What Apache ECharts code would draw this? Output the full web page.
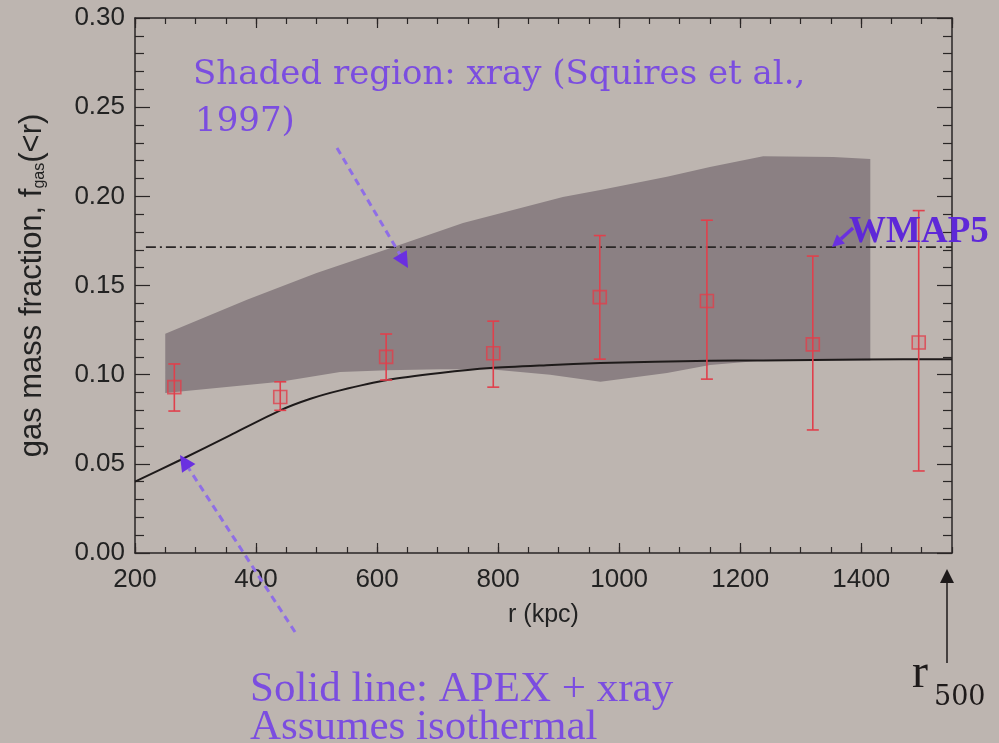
<!DOCTYPE html>
<html>
<head>
<meta charset="utf-8">
<script src="https://cdn.jsdelivr.net/npm/echarts@6/dist/echarts.min.js"></script>
<style>
html, body { margin: 0; padding: 0; background: #bdb5b0; }
#chart { width: 999px; height: 743px; }
</style>
</head>
<body>
<div id="chart"></div>
<script>
// measured f_gas points (r in kpc) with error bars
const radius = [265, 440, 615, 792, 968, 1145, 1320, 1495];
const fgas = [0.093, 0.0875, 0.110, 0.112, 0.1435, 0.1413, 0.117, 0.118];
const errLow = [0.0796, 0.080, 0.097, 0.093, 0.1087, 0.0975, 0.069, 0.046];
const errHigh = [0.106, 0.096, 0.1228, 0.130, 0.178, 0.1866, 0.1665, 0.192];

// solid line: APEX + xray model
const modelR = [200, 274, 357, 440, 490, 539, 617, 704, 787, 880, 969, 1150, 1238, 1400, 1550];
const modelF = [0.040, 0.052, 0.066, 0.0800, 0.0865, 0.0912, 0.097, 0.1009, 0.1037, 0.1053, 0.1065, 0.1078, 0.108, 0.1085, 0.1087];

// xray band (Squires et al. 1997)
const upperR = [250, 385, 500, 626, 742, 907, 969, 1079, 1150, 1238, 1354, 1415];
const upperF = [0.123, 0.142, 0.157, 0.1715, 0.185, 0.1996, 0.2035, 0.211, 0.2165, 0.2225, 0.222, 0.221];
const lowerR = [250, 440, 539, 617, 704, 787, 886, 969, 1079, 1150, 1238, 1415];
const lowerF = [0.0897, 0.096, 0.1015, 0.1025, 0.103, 0.103, 0.100, 0.096, 0.101, 0.1054, 0.108, 0.108];

// WMAP5 level
const wmapR = [218, 1550];
const wmapF = 0.1715;

const red = '#e0404c';
const purple = '#7b4de0';
const axisColor = '#2a2626';

let chart = echarts.init(document.getElementById('chart'), null, { renderer: 'canvas' });

function arrow(x1, y1, x2, y2, dashed, color, headColor, width, head) {
  const dx = x2 - x1, dy = y2 - y1;
  const len = Math.sqrt(dx * dx + dy * dy);
  const ux = dx / len, uy = dy / len;
  const bx = x2 - ux * head, by = y2 - uy * head;
  const w = head * 0.5;
  return {
    type: 'group',
    z: 100,
    children: [
      {
        type: 'line',
        z: 100,
        shape: { x1: x1, y1: y1, x2: bx, y2: by },
        style: { stroke: color, lineWidth: width, lineDash: dashed ? [7, 5] : null }
      },
      {
        type: 'polygon',
        z: 100,
        shape: { points: [[x2, y2], [bx - uy * w, by + ux * w], [bx + uy * w, by - ux * w]] },
        style: { fill: headColor }
      }
    ]
  };
}

const serif = 'DejaVu Serif';

let option = {
  backgroundColor: '#bdb5b0',
  animation: false,
  grid: { left: 135, right: 47, top: 18, bottom: 190 },
  xAxis: [
    {
      type: 'value', min: 200, max: 1550, interval: 200, position: 'bottom',
      axisLine: { show: true, lineStyle: { color: axisColor, width: 1.5 } },
      axisTick: { show: true, inside: true, length: 10, lineStyle: { color: axisColor, width: 1.2 } },
      axisLabel: {
        margin: 14, color: '#222', fontSize: 26, fontFamily: 'Liberation Sans',
        showMaxLabel: false,
        formatter: (v) => (v % 200 === 0 && v <= 1400 ? String(v) : '')
      },
      splitLine: { show: false },
      name: 'r (kpc)', nameLocation: 'middle', nameGap: 50,
      nameTextStyle: { color: '#222', fontSize: 25, fontFamily: 'Liberation Sans' }
    },
    {
      type: 'value', min: 200, max: 1550, interval: 50, position: 'bottom',
      axisLine: { show: false },
      axisTick: { show: true, inside: true, length: 6, lineStyle: { color: axisColor, width: 1.2 } },
      axisLabel: { show: false },
      splitLine: { show: false }
    },
    {
      type: 'value', min: 200, max: 1550, interval: 200, position: 'top',
      axisLine: { show: true, lineStyle: { color: axisColor, width: 1.5 } },
      axisTick: { show: true, inside: true, length: 10, lineStyle: { color: axisColor, width: 1.2 } },
      axisLabel: { show: false },
      splitLine: { show: false }
    },
    {
      type: 'value', min: 200, max: 1550, interval: 50, position: 'top',
      axisLine: { show: false },
      axisTick: { show: true, inside: true, length: 6, lineStyle: { color: axisColor, width: 1.2 } },
      axisLabel: { show: false },
      splitLine: { show: false }
    }
  ],
  yAxis: [
    {
      type: 'value', min: 0, max: 0.30, interval: 0.05, position: 'left',
      axisLine: { show: true, lineStyle: { color: axisColor, width: 1.5 } },
      axisTick: { show: true, inside: true, length: 15, lineStyle: { color: axisColor, width: 1.2 } },
      minorTick: { show: true, splitNumber: 5, length: 9, lineStyle: { color: axisColor, width: 1.2 } },
      axisLabel: {
        margin: 10, color: '#222', fontSize: 26, fontFamily: 'Liberation Sans',
        formatter: (v) => v.toFixed(2)
      },
      splitLine: { show: false },
      name: '{n|gas mass fraction, f}{s|gas}{n|(<r)}',
      nameLocation: 'middle', nameRotate: 90, nameGap: 87,
      nameTextStyle: {
        rich: {
          n: { color: '#222', fontSize: 31, fontFamily: 'Liberation Sans' },
          s: { color: '#222', fontSize: 16, fontFamily: 'Liberation Sans', verticalAlign: 'bottom', padding: [10, 0, 0, 0] }
        }
      }
    },
    {
      type: 'value', min: 0, max: 0.30, interval: 0.05, position: 'right',
      axisLine: { show: true, lineStyle: { color: axisColor, width: 1.5 } },
      axisTick: { show: true, inside: true, length: 15, lineStyle: { color: axisColor, width: 1.2 } },
      minorTick: { show: true, splitNumber: 5, length: 9, lineStyle: { color: axisColor, width: 1.2 } },
      axisLabel: { show: false },
      splitLine: { show: false }
    }
  ],
  series: [
    {
      // shaded xray region
      type: 'custom',
      silent: true,
      z: 1,
      data: [[upperR[0], upperF[0]]],
      renderItem: function (params, api) {
        let pts = [];
        for (let i = 0; i < upperR.length; i++) pts.push(api.coord([upperR[i], upperF[i]]));
        for (let i = lowerR.length - 1; i >= 0; i--) pts.push(api.coord([lowerR[i], lowerF[i]]));
        return { type: 'polygon', shape: { points: pts }, style: { fill: '#8b8083' } };
      }
    },
    {
      type: 'line',
      data: wmapR.map((r) => [r, wmapF]),
      symbol: 'none',
      z: 3,
      lineStyle: { color: '#2a2626', width: 1.6, type: [10, 4, 2, 4] }
    },
    {
      type: 'line',
      data: modelR.map((r, i) => [r, modelF[i]]),
      symbol: 'none',
      smooth: 0.25,
      z: 4,
      lineStyle: { color: '#1e1a1a', width: 2 }
    },
    {
      // error bars
      type: 'custom',
      z: 5,
      data: radius.map((r, i) => [r, errLow[i], errHigh[i]]),
      renderItem: function (params, api) {
        const top = api.coord([api.value(0), api.value(2)]);
        const bot = api.coord([api.value(0), api.value(1)]);
        const cap = 6;
        const st = { stroke: red, lineWidth: 1.6 };
        return {
          type: 'group',
          children: [
            { type: 'line', shape: { x1: top[0], y1: top[1], x2: bot[0], y2: bot[1] }, style: st },
            { type: 'line', shape: { x1: top[0] - cap, y1: top[1], x2: top[0] + cap, y2: top[1] }, style: st },
            { type: 'line', shape: { x1: bot[0] - cap, y1: bot[1], x2: bot[0] + cap, y2: bot[1] }, style: st }
          ]
        };
      }
    },
    {
      type: 'scatter',
      z: 6,
      data: radius.map((r, i) => [r, fgas[i]]),
      symbol: 'rect',
      symbolSize: 13,
      itemStyle: { color: 'rgba(225,70,80,0.15)', borderColor: red, borderWidth: 1.6 }
    }
  ],
  graphic: [
    arrow(337, 148, 408, 268, true, '#8f6ee6', '#6a30e0', 3, 16),
    arrow(295, 632, 180, 455, true, '#8f6ee6', '#6a30e0', 3, 16),
    arrow(853, 228, 832, 247, false, '#6a30e0', '#6a30e0', 3.5, 12),
    arrow(947, 663, 947, 569, false, '#1e1a1a', '#1e1a1a', 1.5, 14),
    {
      type: 'text', left: 193, top: 58, z: 100,
      style: { text: 'Shaded region: xray (Squires et al.,', font: '34px "' + serif + '"', fill: purple }
    },
    {
      type: 'text', left: 195, top: 105, z: 100,
      style: { text: '1997)', font: '34px "' + serif + '"', fill: purple }
    },
    {
      type: 'text', left: 849, top: 214, z: 100,
      style: { text: 'WMAP5', font: 'bold 37px "Liberation Serif"', fill: '#5e28d8' }
    },
    {
      type: 'text', left: 250, top: 668, z: 100,
      style: { text: 'Solid line: APEX + xray', font: '43px "Liberation Serif"', fill: purple }
    },
    {
      type: 'text', left: 250, top: 706, z: 100,
      style: { text: 'Assumes isothermal', font: '43px "Liberation Serif"', fill: purple }
    },
    {
      type: 'text', left: 912, top: 650, z: 100,
      style: { text: 'r', font: '48px "Liberation Serif"', fill: '#1e1a1a' }
    },
    {
      type: 'text', left: 934, top: 684, z: 100,
      style: { text: '500', font: '27px "' + serif + '"', fill: '#1e1a1a' }
    }
  ]
};

if (option && typeof option === 'object') {
  chart.setOption(option);
}
</script>
</body>
</html>
